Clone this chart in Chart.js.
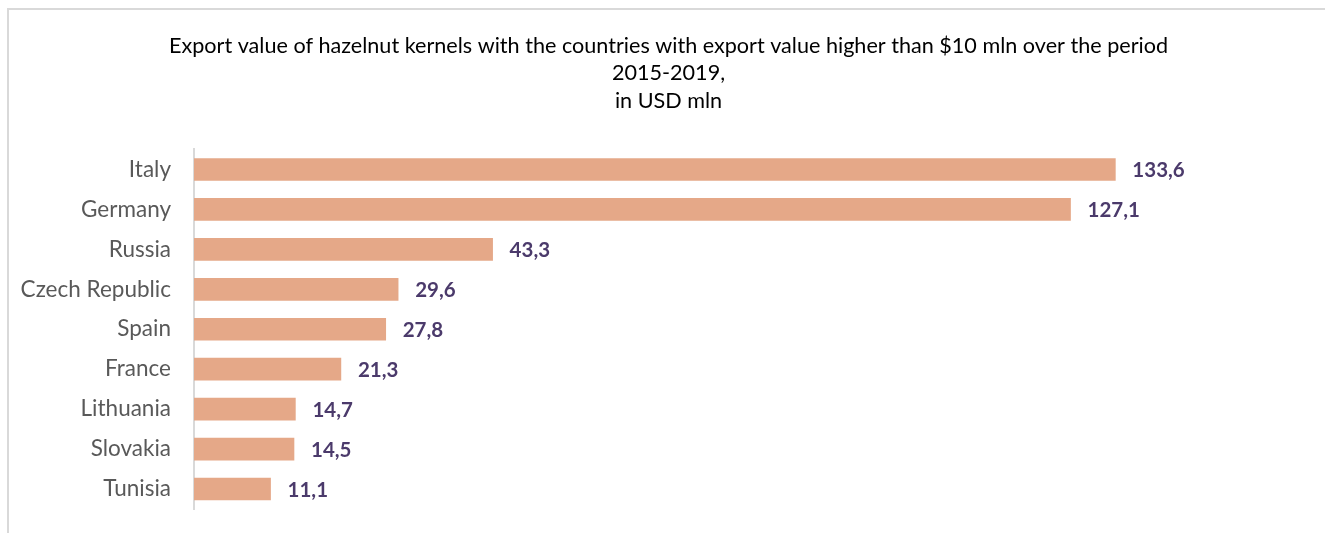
<!DOCTYPE html>
<html>
<head>
<meta charset="utf-8">
<script src="https://cdn.jsdelivr.net/npm/chart.js@4.4.0/dist/chart.umd.min.js"></script>
<style>
  html, body { margin: 0; padding: 0; background: #fff; }
  #wrap { position: relative; width: 1325px; height: 533px; }
  #frame { position: absolute; left: 7px; top: 8px; right: -4px; bottom: -4px; border-left: 2px solid #d9d9d9; border-top: 2px solid #d9d9d9; }
  canvas { position: absolute; left: 0; top: 0; }
</style>
</head>
<body>
<div id="wrap">
  <div id="frame"></div>
  <canvas id="chart" width="1325" height="533"></canvas>
</div>
<script>
const countries = ['Italy', 'Germany', 'Russia', 'Czech Republic', 'Spain', 'France', 'Lithuania', 'Slovakia', 'Tunisia'];
const exportValues = [133.6, 127.1, 43.3, 29.6, 27.8, 21.3, 14.7, 14.5, 11.1];
const titleLines = [
    'Export value of hazelnut kernels with the countries with export value higher than $10 mln over the period',
    '2015-2019,',
    'in USD mln'
];

const FONT = 'Lato, "Open Sans", sans-serif';

// value labels at bar ends, comma as decimal mark
const valueLabels = {
    id: 'valueLabels',
    afterDatasetsDraw(chart) {
        const ctx = chart.ctx;
        const meta = chart.getDatasetMeta(0);
        ctx.save();
        ctx.font = 'bold 20.5px ' + FONT;
        ctx.fillStyle = '#4b3a6b';
        ctx.textAlign = 'left';
        ctx.textBaseline = 'middle';
        meta.data.forEach((bar, i) => {
            const txt = exportValues[i].toFixed(1).replace('.', ',');
            ctx.fillText(txt, bar.x + 17, bar.y + 1);
        });
        ctx.restore();
    }
};

new Chart(document.getElementById('chart'), {
    type: 'bar',
    data: {
        labels: countries,
        datasets: [{
            data: exportValues,
            backgroundColor: '#e5a888',
            borderWidth: 0,
            barThickness: 22,
        }],
    },
    plugins: [valueLabels],
    options: {
        indexAxis: 'y',
        responsive: false,
        animation: false,
        layout: {
            padding: { left: 12, right: 0, top: 0, bottom: 24 },
        },
        plugins: {
            legend: { display: false },
            tooltip: { enabled: false },
            title: {
                display: true,
                text: titleLines,
                color: '#000',
                font: { family: FONT, size: 21.6, weight: 'normal', lineHeight: 1.273 },
                padding: { top: 32, bottom: 35 },
            },
        },
        scales: {
            x: {
                display: false,
                min: 0,
                max: 164,
            },
            y: {
                afterFit(scale) {
                    scale.width = 182;
                    scale.paddingTop = 0;
                    scale.paddingBottom = 0;
                },
                grid: { display: false, drawTicks: false },
                border: { display: true, color: '#d9d9d9', width: 2 },
                ticks: {
                    color: '#595959',
                    padding: 23,
                    font: { family: FONT, size: 22.5 },
                },
            },
        },
    },
});
</script>
</body>
</html>
